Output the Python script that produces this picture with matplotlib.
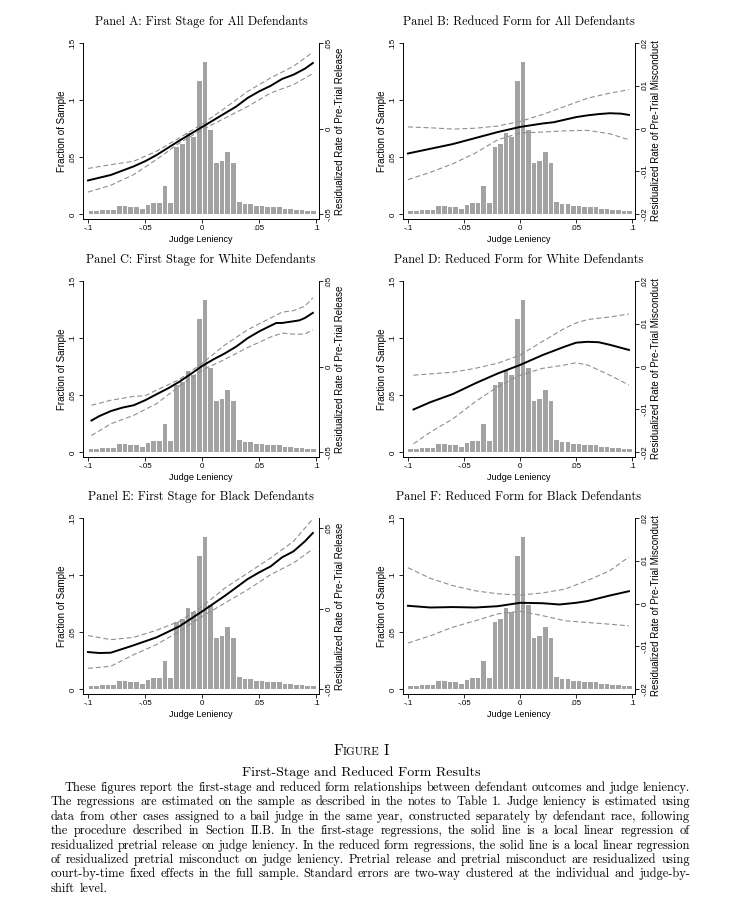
import numpy as np
import matplotlib
matplotlib.use('Agg')
import matplotlib.pyplot as plt
from matplotlib.ticker import FixedLocator, FuncFormatter

W, H = 739, 908

### Datos

# Histograma de la leniencia del juez (el mismo en los seis paneles)
frac_muestra = [0.003, 0.003, 0.004, 0.0035, 0.0035, 0.007, 0.007, 0.0065, 0.006, 0.005,
                0.008, 0.0095, 0.010, 0.025, 0.0095, 0.059, 0.062, 0.0715, 0.068, 0.117,
                0.133, 0.074, 0.045, 0.047, 0.055, 0.045, 0.0105, 0.009, 0.009, 0.007,
                0.007, 0.006, 0.006, 0.006, 0.005, 0.005, 0.004, 0.004, 0.003, 0.0025]
bordes = np.linspace(-0.1, 0.1, len(frac_muestra) + 1)

# Panel A: primera etapa, todos
a_x = [-0.1, -0.08, -0.06, -0.05, -0.04, -0.02, 0, 0.02, 0.03, 0.04, 0.05, 0.06, 0.07, 0.08, 0.09, 0.097]
a_lin = [-0.0302, -0.027, -0.022, -0.019, -0.0154, -0.007, 0.001, 0.009, 0.013, 0.018, 0.0218,
         0.025, 0.029, 0.0315, 0.035, 0.0383]
a_xb = [-0.1, -0.08, -0.06, -0.04, -0.02, 0, 0.02, 0.04, 0.06, 0.08, 0.097]
a_sup = [-0.0232, -0.021, -0.019, -0.0132, -0.0054, 0.0027, 0.012, 0.0218, 0.0296, 0.0364, 0.0446]
a_inf = [-0.037, -0.033, -0.0268, -0.018, -0.0084, -0.0006, 0.0062, 0.013, 0.0208, 0.0257, 0.0321]

# Panel B: forma reducida, todos
b_x = [-0.1, -0.08, -0.06, -0.04, -0.02, 0, 0.02, 0.03, 0.04, 0.05, 0.06, 0.07, 0.08, 0.09, 0.097]
b_lin = [-0.0058, -0.0047, -0.0036, -0.0022, -0.0008, 0.0004, 0.0012, 0.0015, 0.0021, 0.0027,
         0.0031, 0.0034, 0.0036, 0.0035, 0.0032]
b_xb = [-0.1, -0.08, -0.06, -0.04, -0.02, 0, 0.02, 0.04, 0.06, 0.08, 0.097]
b_sup = [0.0004, 0.0002, -0.0001, 0.0001, 0.0006, 0.0017, 0.0033, 0.0052, 0.0071, 0.0083, 0.0091]
b_inf = [-0.0119, -0.0102, -0.0082, -0.0057, -0.0026, -0.001, -0.0008, -0.0005, -0.0004, -0.0012, -0.0026]

# Panel C: primera etapa, blancos
c_x = [-0.097, -0.09, -0.08, -0.07, -0.06, -0.05, -0.04, -0.03, -0.02, -0.01, 0, 0.01, 0.02,
       0.03, 0.04, 0.05, 0.06, 0.065, 0.07, 0.08, 0.085, 0.09, 0.097]
c_lin = [-0.0314, -0.0288, -0.0259, -0.0239, -0.0225, -0.0196, -0.0161, -0.0127, -0.0088, -0.0043,
         0.0004, 0.0043, 0.0078, 0.0118, 0.0167, 0.0206, 0.0239, 0.0255, 0.0255, 0.0265, 0.027,
         0.0284, 0.0314]
c_xb = [-0.097, -0.08, -0.06, -0.05, -0.04, -0.02, 0, 0.02, 0.04, 0.06, 0.07, 0.08, 0.09, 0.097]
c_sup = [-0.0225, -0.0196, -0.0173, -0.017, -0.0137, -0.0075, 0.002, 0.0127, 0.0216, 0.0284,
         0.0318, 0.0327, 0.0353, 0.0402]
c_inf = [-0.0402, -0.0333, -0.0284, -0.025, -0.0216, -0.0114, -0.002, 0.0043, 0.0112, 0.0173,
         0.0196, 0.019, 0.019, 0.0216]

# Panel D: forma reducida, blancos
d_x = [-0.095, -0.08, -0.06, -0.04, -0.02, 0, 0.02, 0.04, 0.05, 0.06, 0.07, 0.08, 0.097]
d_lin = [-0.01, -0.0083, -0.0064, -0.0039, -0.0016, 0.0004, 0.0027, 0.0047, 0.0056, 0.0058,
         0.0057, 0.0051, 0.0039]
d_xb = [-0.095, -0.08, -0.06, -0.04, -0.02, 0, 0.02, 0.04, 0.05, 0.06, 0.08, 0.097]
d_sup = [-0.002, -0.0017, -0.0013, -0.0004, 0.0008, 0.0027, 0.0059, 0.009, 0.0102, 0.011, 0.0116, 0.0123]
d_inf = [-0.018, -0.0153, -0.0122, -0.0082, -0.0047, -0.002, -0.0004, 0.0004, 0.0009, 0.0004,
         -0.002, -0.0043]

# Panel E: primera etapa, negros
e_x = [-0.1, -0.09, -0.08, -0.06, -0.04, -0.02, 0, 0.02, 0.04, 0.05, 0.06, 0.07, 0.08, 0.09, 0.097]
e_lin = [-0.0269, -0.0275, -0.0273, -0.0227, -0.0178, -0.011, -0.0017, 0.008, 0.0184, 0.0225,
         0.0262, 0.0318, 0.0355, 0.0417, 0.0469]
e_xb = [-0.1, -0.08, -0.06, -0.04, -0.02, 0, 0.02, 0.04, 0.06, 0.08, 0.097]
e_sup = [-0.0167, -0.0192, -0.0178, -0.0134, -0.0079, 0.0014, 0.0128, 0.0221, 0.0314, 0.0417, 0.0556]
e_inf = [-0.037, -0.0357, -0.0285, -0.0223, -0.014, -0.0048, 0.0035, 0.0118, 0.0211, 0.0283, 0.037]

# Panel F: forma reducida, negros
f_x = [-0.1, -0.08, -0.06, -0.04, -0.02, 0, 0.02, 0.035, 0.05, 0.06, 0.08, 0.097]
f_lin = [-0.0005, -0.0009, -0.0008, -0.0009, -0.0006, 0.0002, 0.0001, -0.0002, 0.0002, 0.0006,
         0.0019, 0.0029]
f_xb = [-0.1, -0.08, -0.06, -0.04, -0.02, 0, 0.02, 0.04, 0.06, 0.08, 0.097]
f_sup = [0.0084, 0.0059, 0.0042, 0.003, 0.0023, 0.002, 0.0025, 0.0034, 0.0054, 0.0077, 0.0109]
f_inf = [-0.0092, -0.0075, -0.0055, -0.004, -0.0024, -0.0018, -0.0028, -0.004, -0.0044, -0.0048, -0.0052]

x_ticks = [-0.1, -0.05, 0, 0.05, 0.1]
y_ticks = [0, 0.05, 0.1, 0.15]
ticks_fs = [-0.05, 0, 0.05]
ticks_rf = [-0.02, -0.01, 0, 0.01, 0.02]
lab_fs = 'Residualized Rate of Pre-Trial Release'
lab_rf = 'Residualized Rate of Pre-Trial Misconduct'

paneles = [
    ('Panel A: First Stage for All Defendants', (83, 43, 236, 176), a_x, a_lin, a_xb, a_sup, a_inf,
     ticks_fs, (-0.0527, 0.05), lab_fs),
    ('Panel B: Reduced Form for All Defendants', (403, 43, 232, 176), b_x, b_lin, b_xb, b_sup, b_inf,
     ticks_rf, (-0.0211, 0.02), lab_rf),
    ('Panel C: First Stage for White Defendants', (83, 281, 236, 176), c_x, c_lin, c_xb, c_sup, c_inf,
     ticks_fs, (-0.0527, 0.05), lab_fs),
    ('Panel D: Reduced Form for White Defendants', (403, 281, 232, 176), d_x, d_lin, d_xb, d_sup, d_inf,
     ticks_rf, (-0.0211, 0.02), lab_rf),
    ('Panel E: First Stage for Black Defendants', (83, 518, 236, 176), e_x, e_lin, e_xb, e_sup, e_inf,
     ticks_fs, (-0.0529, 0.0562), lab_fs),
    ('Panel F: Reduced Form for Black Defendants', (403, 518, 232, 176), f_x, f_lin, f_xb, f_sup, f_inf,
     ticks_rf, (-0.0211, 0.02), lab_rf),
]

SANS = 'Liberation Sans'
SERIF = 'cmr10'
GRIS_BARRA = '#a3a3a3'
GRIS_LINEA = '#8f8f8f'


# Formato estilo Stata: .05 en vez de 0.05
def etiqueta(v, pos=None):
    s = '%g' % round(v, 4)
    if s.startswith('0.'):
        s = s[1:]
    elif s.startswith('-0.'):
        s = '-' + s[2:]
    return s


def rect(l, t, w, h):
    return [l / W, 1 - (t + h) / H, w / W, h / H]


fig = plt.figure(figsize=(W / 100, H / 100), dpi=100)

for titulo, r, x, lin, xb, sup, inf, rticks, rlim, rlab in paneles:
    ax = fig.add_axes(rect(*r))
    centros = (bordes[:-1] + bordes[1:]) / 2
    ax.bar(centros, frac_muestra, width=0.0041, color=GRIS_BARRA, edgecolor='none', zorder=1)
    ax.set_xlim(-0.1044, 0.1024)
    ax.set_ylim(-0.0041, 0.15)
    ax.xaxis.set_major_locator(FixedLocator(x_ticks))
    ax.yaxis.set_major_locator(FixedLocator(y_ticks))
    ax.xaxis.set_major_formatter(FuncFormatter(etiqueta))
    ax.yaxis.set_major_formatter(FuncFormatter(etiqueta))
    ax.spines['top'].set_visible(False)
    ax.spines['right'].set_visible(False)
    for s in ['left', 'bottom']:
        ax.spines[s].set_linewidth(0.7)
    ax.tick_params(length=3, width=0.6, pad=1.5, labelsize=5.8)
    ax.set_xlabel('Judge Leniency', fontsize=6.5, family=SANS, labelpad=2)
    ax.set_ylabel('Fraction of Sample', fontsize=7, family=SANS, labelpad=2)
    for t in ax.get_xticklabels():
        t.set_family(SANS)
    for t in ax.get_yticklabels():
        t.set_family(SANS)
        t.set_rotation(90)
        t.set_va('center')

    ax2 = ax.twinx()
    ax2.plot(xb, sup, color=GRIS_LINEA, lw=0.8, ls=(0, (4.5, 2.5)))
    ax2.plot(xb, inf, color=GRIS_LINEA, lw=0.8, ls=(0, (4.5, 2.5)))
    ax2.plot(x, lin, color='black', lw=1.4)
    ax2.set_ylim(*rlim)
    ax2.yaxis.set_major_locator(FixedLocator(rticks))
    ax2.yaxis.set_major_formatter(FuncFormatter(etiqueta))
    for s in ['top', 'left', 'bottom']:
        ax2.spines[s].set_visible(False)
    ax2.spines['right'].set_linewidth(0.7)
    ax2.tick_params(length=3, width=0.6, pad=1.5, labelsize=5.8)
    ax2.set_ylabel(rlab, fontsize=7, family=SANS, rotation=90, labelpad=2)
    for t in ax2.get_yticklabels():
        t.set_family(SANS)
        t.set_rotation(90)
        t.set_va('center')

    l, tp, w, h = r
    fig.text((l + w / 2) / W, 1 - (tp - 21) / H, titulo, family=SERIF, fontsize=8.8,
             ha='center', va='center')

### Pie de figura

rend = fig.canvas.get_renderer()


def ancho(t):
    return t.get_window_extent(rend).width


def palabra(xp, yp, s, fs):
    return fig.text(xp / W, 1 - yp / H, s, family=SERIF, fontsize=fs, ha='left', va='baseline')


CENTRO = 361

# "FIGURE I" en versalitas
partes = [('F', 10.5), ('IGURE', 8.0), ('I', 10.5)]
objs = [palabra(0, 755, s, fs) for s, fs in partes]
anchos = [ancho(o) for o in objs]
anchos[1] += 4
x0 = CENTRO - sum(anchos) / 2
for o, wd in zip(objs, anchos):
    o.set_x(x0 / W)
    x0 += wd

fig.text(CENTRO / W, 1 - 776 / H, 'First-Stage and Reduced Form Results', family=SERIF,
         fontsize=10.1, ha='center', va='baseline')

lineas = [
    'These figures report the first-stage and reduced form relationships between defendant outcomes and judge leniency.',
    'The regressions are estimated on the sample as described in the notes to Table 1.  Judge leniency is estimated using',
    'data from other cases assigned to a bail judge in the same year, constructed separately by defendant race, following',
    'the procedure described in Section II.B. In the first-stage regressions, the solid line is a local linear regression of',
    'residualized pretrial release on judge leniency. In the reduced form regressions, the solid line is a local linear regression',
    'of residualized pretrial misconduct on judge leniency. Pretrial release and pretrial misconduct are residualized using',
    'court-by-time fixed effects in the full sample. Standard errors are two-way clustered at the individual and judge-by-',
    'shift level.',
]
izq, der = 51, 690

# tamaño de letra: la línea más apretada (la quinta) llena el ancho con espacios normales
prueba = [palabra(0, 0, s, 10) for s in lineas[4].split()]
suma = sum(ancho(o) for o in prueba)
for o in prueba:
    o.remove()
n_huecos = len(prueba) - 1
FS_TXT = 10 * (der - izq) / (suma + n_huecos * 10 * 100 / 72 * 0.30)

for i, texto in enumerate(lineas):
    yp = 791 + i * 14.4
    xi = izq + 14 if i == 0 else izq
    ws = texto.split()
    objs = [palabra(xi, yp, s, FS_TXT) for s in ws]
    anchos = [ancho(o) for o in objs]
    if i < len(lineas) - 1:
        hueco = (der - xi - sum(anchos)) / (len(ws) - 1)
    else:
        hueco = FS_TXT * 100 / 72 * 0.333
    xc = xi
    for o, wd in zip(objs, anchos):
        o.set_x(xc / W)
        xc += wd + hueco

fig.savefig('out.png', dpi=100)
